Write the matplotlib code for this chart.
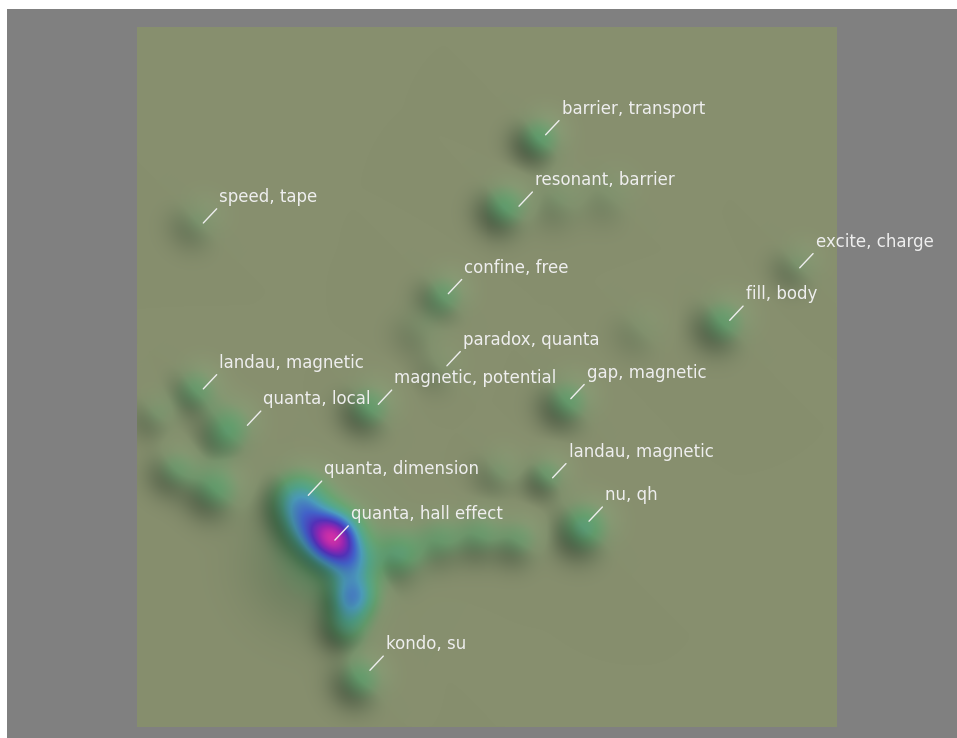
import numpy as np
import matplotlib
matplotlib.use('Agg')
from matplotlib import pyplot as plt
from matplotlib.colors import LinearSegmentedColormap, Normalize

# keyword labels and where their leader lines start (map units 0-100)
label_text = ['barrier, transport', 'resonant, barrier', 'speed, tape', 'excite, charge',
              'confine, free', 'fill, body', 'paradox, quanta', 'landau, magnetic',
              'magnetic, potential', 'gap, magnetic', 'quanta, local', 'landau, magnetic',
              'quanta, dimension', 'nu, qh', 'quanta, hall effect', 'kondo, su']
label_x = [58.3, 54.5, 9.4, 94.6, 44.4, 84.6, 44.2, 9.4, 34.4, 61.9, 15.7, 59.3, 24.4, 64.5, 28.2, 33.2]
label_y = [84.6, 74.4, 72.0, 65.6, 61.9, 58.1, 51.6, 48.3, 46.1, 46.9, 43.1, 35.6, 33.1, 29.4, 26.7, 8.1]

# document clusters: centre, height, spread
blob_x = [57.5, 52.5, 8.6, 94.4, 43.7, 83.7, 43.2, 8.3, 33.0, 61.5, 13.3, 58.6, 63.9, 31.8,
          5.4, 11.1, 2.6, 37.5, 43.2, 48.9, 54.6, 40.4, 60.3, 67.5, 72.0, 51.7, 12.0,
          28.0, 24.6, 30.6, 30.9, 23.0, 29.9, 26.5]
blob_y = [83.9, 74.1, 72.1, 65.9, 61.4, 57.6, 51.3, 48.1, 45.6, 46.4, 43.1, 35.9, 28.4, 6.7,
          36.7, 33.9, 44.6, 24.6, 26.7, 27.4, 26.7, 56.7, 75.3, 76.0, 56.7, 36.4, 41.0,
          27.0, 28.8, 23.6, 18.6, 32.4, 14.4, 25.0]
blob_h = [0.22, 0.22, 0.10, 0.10, 0.18, 0.20, 0.06, 0.18, 0.20, 0.20, 0.15, 0.16, 0.26, 0.20,
          0.15, 0.20, 0.10, 0.20, 0.16, 0.16, 0.15, 0.07, 0.09, 0.07, 0.06, 0.10, 0.10,
          0.85, 0.28, 0.30, 0.42, 0.36, 0.22, 0.20]
blob_w = [2.3, 2.4, 2.4, 2.2, 2.3, 2.5, 2.2, 2.3, 2.4, 2.4, 2.5, 2.1, 2.6, 2.4,
          2.3, 2.5, 2.2, 2.5, 2.4, 2.4, 2.3, 2.4, 2.6, 2.6, 2.4, 2.3, 2.4,
          2.3, 2.4, 2.2, 2.2, 2.7, 2.3, 6.0]

nx, ny = 701, 700
gx = np.linspace(0, 100, nx)
gy = np.linspace(0, 100, ny)
X, Y = np.meshgrid(gx, gy)
Z = np.zeros_like(X)
for bx, by, bh, bw in zip(blob_x, blob_y, blob_h, blob_w):
    Z += bh * np.exp(-((X - bx) ** 2 + (Y - by) ** 2) / (2 * bw ** 2))

cmap = LinearSegmentedColormap.from_list('terrain_map', [
    (0.00, '#878f6e'), (0.07, '#7f916d'), (0.18, '#62996a'), (0.30, '#4f9e84'),
    (0.42, '#4a98b6'), (0.56, '#4262c8'), (0.70, '#5232b8'), (0.85, '#9626b0'),
    (1.00, '#d030a8')], N=4096)
rgb = cmap(Normalize(0, Z.max())(Z))[:, :, :3]

# simple hill shading, light from the upper right
Zs = 0.3 * np.tanh(Z / 0.3)
dy, dx = np.gradient(Zs * 7.0, gy, gx)
alt = np.radians(45)
lx = ly = np.cos(alt) / np.sqrt(2)
nz = 1 / np.sqrt(dx ** 2 + dy ** 2 + 1)
inten = (-dx * lx - dy * ly + np.sin(alt)) * nz
shade = inten - np.sin(alt)
shade = np.where(shade > 0, 0.35 * shade, 1.1 * shade)
rgb = np.clip(rgb * (1 + shade[:, :, None]), 0, 1)

fig = plt.figure(figsize=(9.57, 7.38), dpi=100, facecolor='white')
bg = fig.add_axes([7 / 957, 0, 950 / 957, 729 / 738])
bg.set_facecolor('#808080')
bg.set_xticks([])
bg.set_yticks([])
for s in bg.spines.values():
    s.set_visible(False)

ax = fig.add_axes([137 / 957, 11 / 738, 701 / 957, 700 / 738])
ax.imshow(rgb, origin='lower', extent=(0, 100, 0, 100), interpolation='none')
ax.set_xlim(0, 100)
ax.set_ylim(0, 100)
ax.axis('off')

for t, x, y in zip(label_text, label_x, label_y):
    ax.annotate(t, (x, y), xytext=(16, 17), textcoords='offset pixels',
                ha='left', va='bottom', color='#eeeeee', fontsize=12, annotation_clip=False,
                arrowprops=dict(arrowstyle='-', color='#eeeeee', lw=1, shrinkA=0, shrinkB=0,
                                relpos=(0, 0)))

plt.savefig('out.png', dpi=100, facecolor=fig.get_facecolor())
